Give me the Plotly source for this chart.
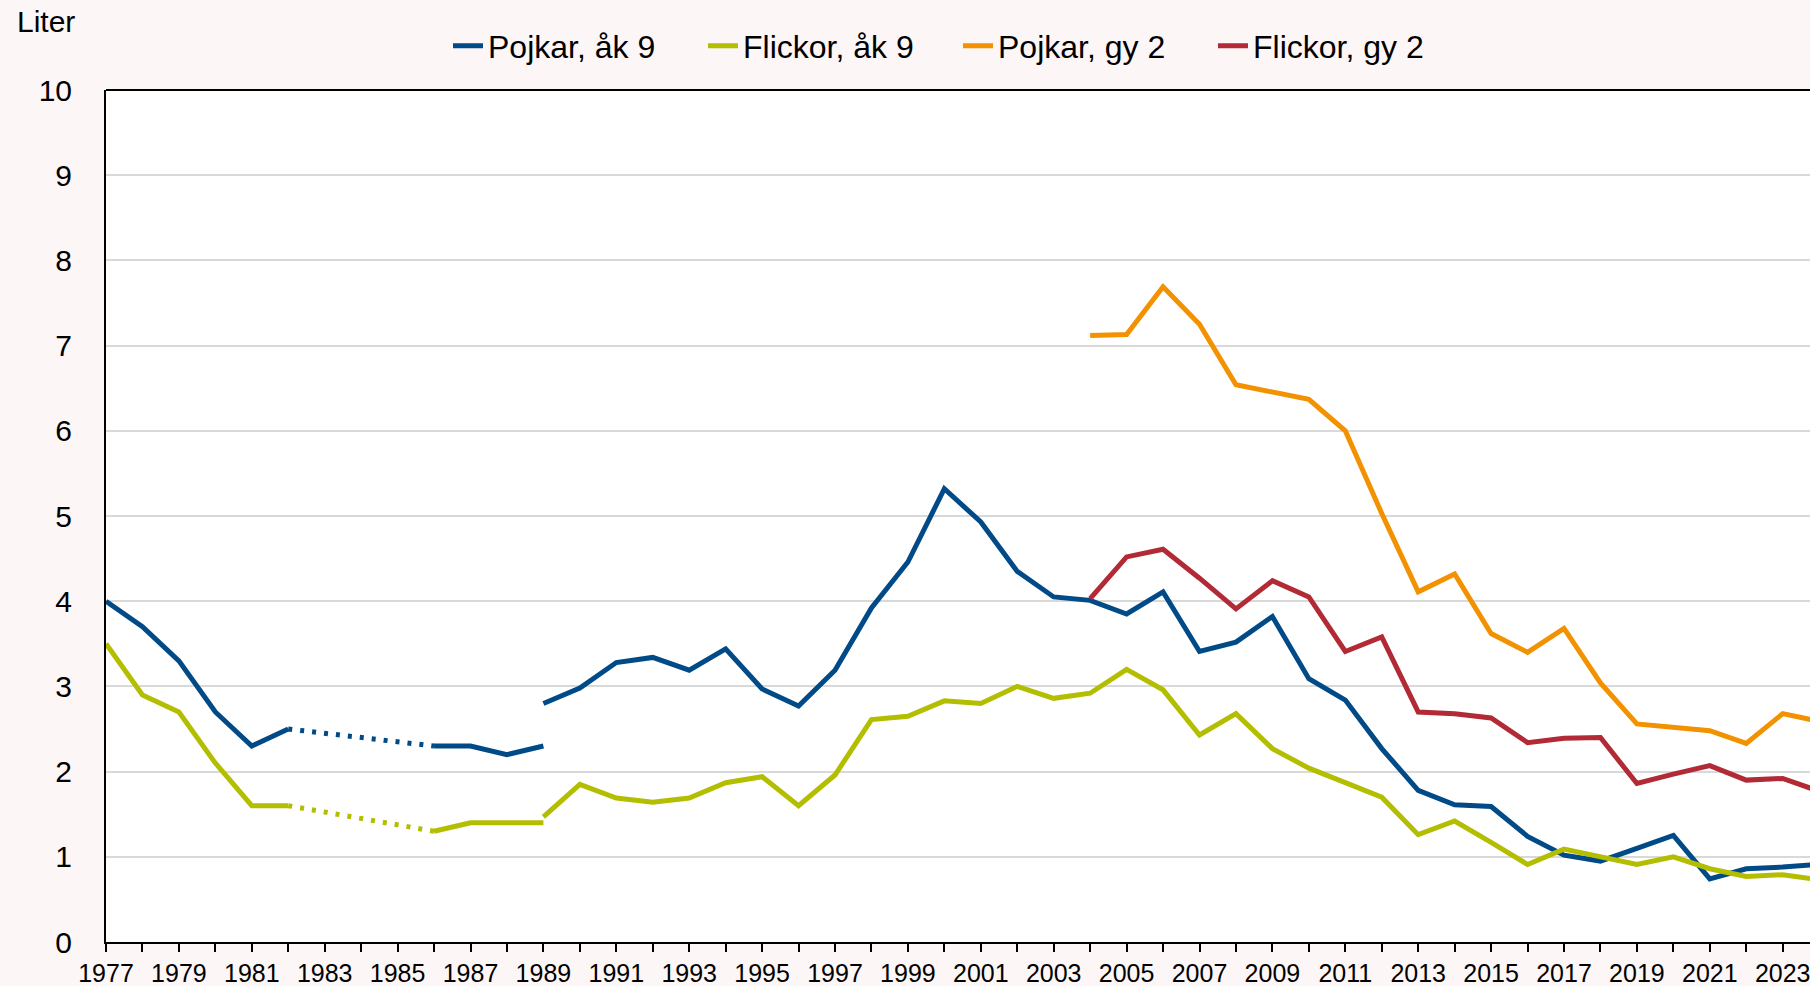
import plotly.graph_objects as go

# ---- data ----
years_old = list(range(1977, 1990))          # 1977-1989 (old method)
years_new = list(range(1989, 2025))          # 1989-2024 (new method)
years_gy = list(range(2004, 2025))           # 2004-2024

pojkar_ak9_old = [4.0, 3.7, 3.3, 2.7, 2.3, 2.5, None, None, None, 2.3, 2.3, 2.2, 2.3]
flickor_ak9_old = [3.5, 2.9, 2.7, 2.1, 1.6, 1.6, None, None, None, 1.3, 1.4, 1.4, 1.4]

pojkar_ak9_new = [2.80, 2.98, 3.28, 3.34, 3.19, 3.44, 2.97, 2.77, 3.19, 3.92, 4.46, 5.32,
                  4.93, 4.35, 4.05, 4.01, 3.85, 4.11, 3.41, 3.52, 3.82, 3.09, 2.84, 2.27,
                  1.78, 1.61, 1.59, 1.24, 1.02, 0.95, 1.10, 1.25, 0.74, 0.86, 0.88, 0.91]
flickor_ak9_new = [1.47, 1.85, 1.69, 1.64, 1.69, 1.87, 1.94, 1.60, 1.96, 2.61, 2.65, 2.83,
                   2.80, 3.00, 2.86, 2.92, 3.20, 2.96, 2.43, 2.68, 2.27, 2.04, 1.87, 1.70,
                   1.26, 1.42, 1.17, 0.91, 1.09, 1.00, 0.91, 1.00, 0.86, 0.77, 0.79, 0.73]
pojkar_gy2 = [7.12, 7.13, 7.69, 7.25, 6.54, 6.46, 6.37, 6.00, 5.03, 4.11, 4.32, 3.62,
              3.40, 3.68, 3.04, 2.56, 2.52, 2.48, 2.33, 2.68, 2.59]
flickor_gy2 = [4.03, 4.52, 4.61, 4.27, 3.91, 4.24, 4.05, 3.41, 3.58, 2.70, 2.68, 2.63,
               2.34, 2.39, 2.40, 1.86, 1.97, 2.07, 1.90, 1.92, 1.77]

names = ["Pojkar, åk 9", "Flickor, åk 9", "Pojkar, gy 2", "Flickor, gy 2"]
colors = ["#004A87", "#B4BE00", "#F39200", "#B12A35"]
tick_years = list(range(1977, 2024, 2))

LW = 5
FONT = "Liberation Sans, Arial, sans-serif"
PAGE_BG = "#FCF6F6"


def gap_bridge(xs, ys):
    """Return x/y pairs connecting the ends of data gaps (for dotted lines)."""
    bx, by = [], []
    last = None
    for i, (x, y) in enumerate(zip(xs, ys)):
        if y is None:
            continue
        if last is not None and i - last > 1:
            bx += [xs[last], x, None]
            by += [ys[last], y, None]
        last = i
    return bx, by


fig = go.Figure()

series = [
    (0, [(years_old, pojkar_ak9_old), (years_new, pojkar_ak9_new)]),
    (1, [(years_old, flickor_ak9_old), (years_new, flickor_ak9_new)]),
    (2, [(years_gy, pojkar_gy2)]),
    (3, [(years_gy, flickor_gy2)]),
]

for idx, segs in series:
    first = True
    for xs, ys in segs:
        fig.add_trace(go.Scatter(
            x=xs, y=ys, mode="lines", name=names[idx], legendgroup=names[idx],
            showlegend=first, connectgaps=False,
            line=dict(color=colors[idx], width=LW),
            hoverinfo="skip"))
        first = False
        bx, by = gap_bridge(xs, ys)
        if bx:
            fig.add_trace(go.Scatter(
                x=bx, y=by, mode="lines", legendgroup=names[idx], showlegend=False,
                line=dict(color=colors[idx], width=LW, dash="4px,8px"),
                hoverinfo="skip"))

W, H = 1810, 986
L, R, T, B = 106, 0, 90, 44
plot_w = W - L - R
plot_h = H - T - B
px_per_year = 36.45
x_end = 1977 + plot_w / px_per_year

fig.update_layout(
    width=W, height=H,
    margin=dict(l=L, r=R, t=T, b=B, autoexpand=False),
    paper_bgcolor=PAGE_BG,
    plot_bgcolor="#FFFFFF",
    font=dict(family=FONT, color="#000000", size=30),
    showlegend=True,
    legend=dict(
        orientation="h", x=(958 - L) / plot_w, xanchor="center",
        y=1 + (T - 46) / plot_h, yanchor="middle",
        font=dict(size=32, family=FONT), bgcolor="rgba(0,0,0,0)",
        itemwidth=30, tracegroupgap=0,
        entrywidth=210, entrywidthmode="pixels",
    ),
    xaxis=dict(
        range=[1977, x_end], tickmode="array", tickvals=tick_years,
        ticktext=[str(y) for y in tick_years],
        showgrid=False, zeroline=False, showline=True, linecolor="#000000", linewidth=2,
        ticks="outside", ticklen=8, tickwidth=2, tickcolor="#000000",
        tickfont=dict(size=25, family=FONT), ticklabeloverflow="allow",
        minor=dict(dtick=1, tick0=1977, ticks="outside", ticklen=8, tickwidth=2,
                   tickcolor="#000000", showgrid=False),
        automargin=False, fixedrange=True,
    ),
    yaxis=dict(
        range=[0, 10], dtick=1, tick0=0,
        showgrid=True, gridcolor="#D9D9D9", gridwidth=1.5,
        zeroline=False, showline=True, linecolor="#000000", linewidth=2,
        ticks="", tickfont=dict(size=30, family=FONT),
        ticklabelstandoff=26, automargin=False, fixedrange=True,
    ),
    annotations=[dict(
        text="Liter", xref="paper", yref="paper",
        x=(15 - L) / plot_w, y=1 + (T - 22) / plot_h,
        xanchor="left", yanchor="middle", showarrow=False,
        font=dict(size=30, family=FONT),
    )],
    shapes=[dict(type="line", xref="paper", yref="paper", x0=0, x1=1, y0=1, y1=1,
                 line=dict(color="#000000", width=2), layer="above")],
)

fig.write_html(
    "out.html",
    config={"displayModeBar": False},
    post_script=(
        "document.documentElement.style.margin='0';"
        "document.body.style.margin='0';"
        "document.body.style.padding='0';"
        "document.body.style.overflow='hidden';"
        "document.body.style.background='" + PAGE_BG + "';"
    ),
)
